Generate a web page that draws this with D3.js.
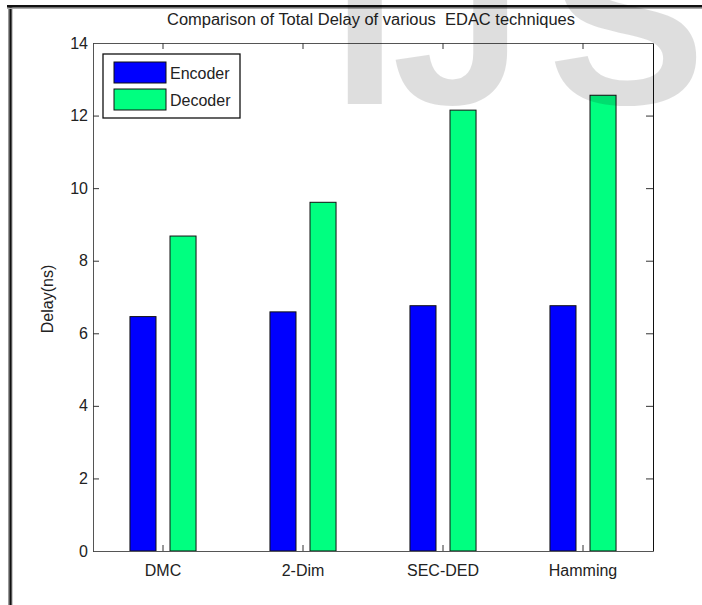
<!DOCTYPE html>
<html>
<head>
<meta charset="utf-8">
<script src="https://cdn.jsdelivr.net/npm/d3@7"></script>
<style>
  html, body { margin: 0; padding: 0; background: #fff; }
  svg { display: block; font-family: "Liberation Sans", Arial, sans-serif; }
</style>
</head>
<body>
<svg id="chart" width="702" height="605"></svg>
<script>
// Total delay (ns) per EDAC technique
const categories = ["DMC", "2-Dim", "SEC-DED", "Hamming"];
const seriesNames = ["Encoder", "Decoder"];
const encoderDelay = [6.46, 6.59, 6.76, 6.76];
const decoderDelay = [8.68, 9.61, 12.15, 12.56];
const yTicks = [0, 2, 4, 6, 8, 10, 12, 14];
const seriesColors = ["#0000ff", "#00ff80"];

const svg = d3.select("#chart");
const W = 702, H = 605;
const plot = { left: 93, right: 653, top: 43, bottom: 551 };

// page frame lines
svg.append("rect").attr("x", 8).attr("y", 5).attr("width", 4.5).attr("height", H - 5).attr("fill", "#9a9a9a");
svg.append("rect").attr("x", 9.5).attr("y", 5).attr("width", 2).attr("height", H - 5).attr("fill", "#111");
svg.append("rect").attr("x", 7).attr("y", 7.5).attr("width", W - 7).attr("height", 1.5).attr("fill", "#aaa");
svg.append("rect").attr("x", 7).attr("y", 5).attr("width", W - 7).attr("height", 2.5).attr("fill", "#111");

const x0 = d3.scaleBand().domain(categories).range([plot.left, plot.right]).padding(0);
const bw = x0.bandwidth();
const x1 = d3.scalePoint().domain(seriesNames).range([-0.143 * bw, 0.143 * bw]);
const barW = 0.186 * bw;
const y = d3.scaleLinear().domain([0, 14]).range([plot.bottom, plot.top]);

const rows = categories.map((c, i) => ({
  category: c,
  values: [
    { name: "Encoder", value: encoderDelay[i] },
    { name: "Decoder", value: decoderDelay[i] }
  ]
}));
const color = d3.scaleOrdinal().domain(seriesNames).range(seriesColors);

// bars
const groups = svg.append("g").selectAll("g").data(rows).join("g")
  .attr("transform", d => `translate(${x0(d.category) + bw / 2},0)`);
groups.selectAll("rect").data(d => d.values).join("rect")
  .attr("x", d => x1(d.name) - barW / 2)
  .attr("width", barW)
  .attr("y", d => y(d.value))
  .attr("height", d => y(0) - y(d.value))
  .attr("fill", d => color(d.name))
  .attr("stroke", "#111")
  .attr("stroke-width", 1);

// axes (ticks pointing inward, boxed)
const fontSize = 16;
const styleAxis = (g, showLabels) => {
  g.select(".domain").attr("stroke", "#555");
  g.selectAll(".tick line").attr("stroke", "#333");
  g.selectAll(".tick text").attr("fill", "#222").attr("font-size", fontSize)
    .attr("font-family", "Liberation Sans, Arial, sans-serif");
  if (!showLabels) g.selectAll(".tick text").remove();
};

svg.append("g").attr("transform", `translate(${plot.left},0)`)
  .call(d3.axisLeft(y).tickValues(yTicks).tickFormat(d3.format("d")).tickSizeInner(-6).tickSizeOuter(0).tickPadding(5))
  .call(g => styleAxis(g, true));
svg.append("g").attr("transform", `translate(${plot.right},0)`)
  .call(d3.axisRight(y).tickValues(yTicks).tickSizeInner(-7).tickSizeOuter(0))
  .call(g => { styleAxis(g, false); g.select(".domain").attr("stroke", "#111"); });
svg.append("g").attr("transform", `translate(0,${plot.bottom})`)
  .call(d3.axisBottom(x0).tickSizeInner(-6).tickSizeOuter(0).tickPadding(14))
  .call(g => styleAxis(g, true));
svg.append("g").attr("transform", `translate(0,${plot.top})`)
  .call(d3.axisTop(x0).tickSizeInner(-6).tickSizeOuter(0))
  .call(g => styleAxis(g, false));

// title and axis label
svg.append("text")
  .attr("x", 371).attr("y", 25)
  .attr("text-anchor", "middle").attr("font-size", fontSize).attr("fill", "#222")
  .attr("textLength", 408).attr("lengthAdjust", "spacingAndGlyphs")
  .style("white-space", "pre")
  .text("Comparison of Total Delay of various  EDAC techniques");
svg.append("text")
  .attr("transform", "translate(53,299) rotate(-90)")
  .attr("text-anchor", "middle").attr("font-size", fontSize).attr("fill", "#222")
  .text("Delay(ns)");

// legend
const legend = svg.append("g");
legend.append("rect").attr("x", 103).attr("y", 54).attr("width", 137).attr("height", 64)
  .attr("fill", "#fff").attr("stroke", "#111").attr("stroke-width", 1.3);
const items = legend.selectAll("g.item").data(seriesNames).join("g").attr("class", "item")
  .attr("transform", (d, i) => `translate(0,${62 + i * 27})`);
items.append("rect").attr("x", 114).attr("y", 0).attr("width", 52).attr("height", 21)
  .attr("fill", d => color(d)).attr("stroke", "#111");
items.append("text").attr("x", 170).attr("y", 11).attr("dy", "0.35em")
  .attr("font-size", fontSize).attr("fill", "#222").text(d => d);

// publisher watermark
const wm = svg.append("text").attr("y", 104)
  .attr("font-size", 236).attr("font-weight", "bold")
  .attr("fill", "#000").attr("fill-opacity", 0.13);
wm.append("tspan").attr("x", 332).text("I");
wm.append("tspan").attr("x", 392).text("J");
wm.append("tspan").attr("x", 548).text("S");
</script>
</body>
</html>
